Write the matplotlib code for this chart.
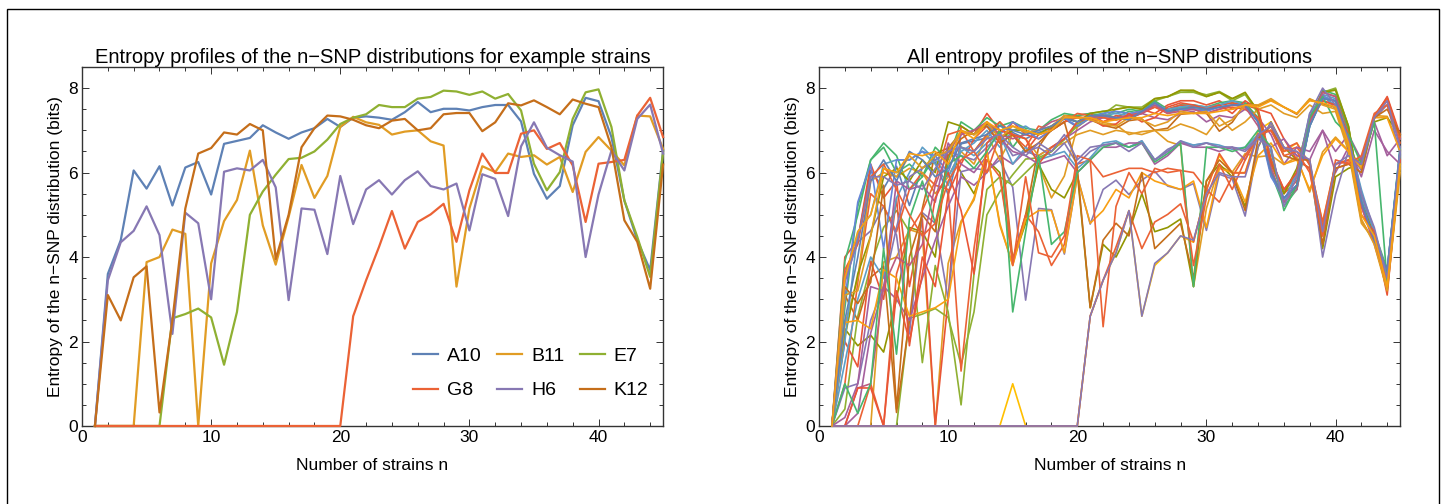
import numpy as np
import matplotlib

matplotlib.use('Agg')
import matplotlib.pyplot as plt
from matplotlib.ticker import MultipleLocator
from matplotlib.patches import Rectangle

plt.rcParams['font.family'] = ['Liberation Sans', 'DejaVu Sans']

n_strains = np.arange(1, 46)

# example strains (left panel)
a10 = [0, 3.6, 4.4, 6.05, 5.62, 6.15, 5.22, 6.12, 6.25, 5.48,
       6.68, 6.75, 6.82, 7.12, 6.95, 6.8, 6.95, 7.05, 7.27, 7.08,
       7.3, 7.33, 7.3, 7.25, 7.43, 7.67, 7.43, 7.51, 7.51, 7.47,
       7.55, 7.6, 7.6, 7.21, 5.97, 5.38, 5.68, 7.12, 7.77, 7.69,
       6.84, 5.34, 4.4, 3.69, 6.52]
b11 = [0, 0, 0, 0, 3.88, 4.0, 4.65, 4.55, 0, 3.85,
       4.85, 5.35, 6.52, 4.75, 3.82, 4.95, 6.18, 5.4, 5.92, 7.08,
       7.32, 7.19, 7.13, 6.9, 6.97, 7.0, 6.74, 6.64, 3.3, 5.15,
       6.15, 6.01, 6.45, 6.37, 6.41, 6.19, 6.37, 5.54, 6.49, 6.84,
       6.52, 6.17, 7.35, 7.33, 6.56]
e7 = [0, 0, 0, 0, 0, 0, 2.55, 2.65, 2.78, 2.57,
      1.45, 2.7, 5.0, 5.55, 5.95, 6.32, 6.35, 6.5, 6.78, 7.15,
      7.3, 7.38, 7.6, 7.55, 7.55, 7.75, 7.79, 7.94, 7.92, 7.84,
      7.92, 7.75, 7.86, 7.47, 6.21, 5.58, 6.01, 7.27, 7.9, 7.97,
      7.08, 5.34, 4.48, 3.53, 6.5]
g8 = [0, 0, 0, 0, 0, 0, 0, 0, 0, 0,
      0, 0, 0, 0, 0, 0, 0, 0, 0, 0,
      2.6, 3.45, 4.24, 5.09, 4.2, 4.83, 5.01, 5.26, 4.36, 5.58,
      6.45, 5.99, 5.99, 6.92, 7.0, 6.56, 6.7, 6.17, 4.83, 6.21,
      6.25, 6.3, 7.35, 7.77, 6.84]
h6 = [0, 3.45, 4.35, 4.62, 5.2, 4.52, 2.18, 5.05, 4.8, 3.0,
      6.02, 6.1, 6.05, 6.3, 5.65, 2.98, 5.15, 5.12, 4.07, 5.92,
      4.78, 5.6, 5.82, 5.48, 5.82, 6.03, 5.68, 5.6, 5.74, 4.63,
      5.96, 5.85, 4.97, 6.62, 7.19, 6.59, 6.41, 6.26, 4.0, 5.48,
      6.52, 6.05, 7.27, 7.61, 6.45]
k12 = [0, 3.1, 2.5, 3.52, 3.78, 0.32, 2.5, 5.15, 6.45, 6.58,
       6.95, 6.9, 7.15, 7.0, 3.95, 5.0, 6.6, 7.05, 7.35, 7.33,
       7.25, 7.12, 7.05, 7.23, 7.27, 7.0, 7.05, 7.38, 7.41, 7.41,
       6.98, 7.19, 7.64, 7.59, 7.71, 7.55, 7.38, 7.73, 7.63, 7.55,
       6.6, 4.87, 4.36, 3.25, 6.19]

example_names = ['A10', 'B11', 'E7', 'G8', 'H6', 'K12']
example_values = [a10, b11, e7, g8, h6, k12]

# further strains (right panel only)
r01 = [0, 2.8, 5.2, 6.3, 6.7, 6.4, 5.6, 5.9, 6.4, 6.5,
       6.6, 6.5, 6.9, 7.2, 6.6, 7.0, 6.9, 7.0, 7.3, 7.2,
       7.35, 7.4, 7.3, 7.45, 7.4, 7.65, 7.45, 7.55, 7.55, 7.5,
       7.6, 7.65, 7.6, 7.25, 6.0, 5.2, 5.6, 7.1, 7.8, 7.7,
       6.9, 5.4, 4.5, 3.6, 6.5]
r02 = [0, 0, 0, 0, 0, 0, 0, 0, 0, 0,
       0, 0, 0, 0, 1.0, 0, 0, 0, 0, 0,
       2.6, 3.45, 4.1, 5.1, 2.6, 3.8, 4.1, 4.5, 4.35, 5.6,
       6.4, 6.0, 6.0, 7.0, 7.2, 6.5, 6.7, 6.2, 4.8, 6.2,
       6.3, 6.3, 7.35, 7.75, 6.8]
r03 = [0, 0, 0, 0, 0, 0, 0, 0, 0, 0,
       0, 0, 0, 0, 0, 0, 0, 0, 0, 0,
       2.6, 3.45, 4.1, 5.1, 2.6, 3.85, 4.1, 4.5, 4.4, 5.5,
       6.0, 5.9, 5.9, 6.9, 7.1, 6.6, 6.5, 6.3, 4.6, 6.2,
       6.4, 6.2, 7.3, 7.7, 6.6]
r04 = [0, 2.3, 1.9, 2.15, 1.75, 3.0, 4.7, 4.6, 4.0, 6.6,
       6.0, 5.5, 6.3, 6.0, 3.9, 4.8, 6.2, 5.6, 5.4, 6.0,
       2.8, 4.3, 4.0, 4.6, 5.5, 4.6, 4.7, 4.9, 3.3, 5.8,
       6.2, 5.9, 5.2, 6.6, 7.2, 6.6, 6.3, 6.1, 4.2, 5.9,
       6.1, 6.2, 7.2, 7.3, 6.9]
r05 = [0, 4.0, 4.4, 6.2, 5.4, 5.8, 3.3, 4.9, 0, 3.0,
       7.1, 6.9, 7.4, 7.0, 6.9, 6.5, 6.9, 7.0, 7.2, 7.35,
       7.4, 7.2, 7.3, 7.35, 7.5, 7.4, 7.6, 7.7, 7.7, 7.6,
       7.7, 7.5, 7.6, 7.5, 7.4, 6.8, 6.3, 6.1, 4.5, 6.2,
       6.3, 6.2, 7.3, 7.8, 6.9]
r06 = [0, 0.4, 2.6, 3.8, 4.7, 5.1, 4.6, 1.5, 3.8, 2.7,
       0.5, 3.6, 5.6, 5.9, 5.7, 6.0, 6.3, 6.5, 6.8, 7.1,
       7.3, 7.3, 7.5, 7.55, 7.5, 7.7, 7.8, 7.9, 7.9, 7.8,
       7.9, 7.7, 7.85, 7.4, 6.2, 5.5, 6.0, 7.3, 7.9, 8.0,
       7.1, 5.3, 4.5, 3.5, 6.4]
r07 = [0, 1.0, 3.4, 5.5, 5.2, 4.6, 5.6, 6.0, 5.7, 5.6,
       1.3, 4.2, 6.3, 5.9, 3.9, 5.0, 4.6, 3.8, 4.3, 6.2,
       6.3, 5.9, 6.0, 6.1, 6.1, 6.0, 6.1, 6.05, 6.0, 5.6,
       5.3, 5.9, 6.4, 6.9, 7.0, 6.5, 6.6, 6.2, 4.7, 6.1,
       6.2, 6.3, 7.3, 7.7, 6.8]
r08 = [0, 2.0, 4.6, 5.0, 6.2, 6.3, 6.3, 6.5, 6.2, 5.7,
       6.6, 6.4, 6.7, 6.9, 6.2, 6.6, 6.3, 6.4, 6.5, 6.1,
       6.35, 6.7, 6.75, 6.6, 6.75, 6.3, 6.5, 6.75, 6.65, 6.7,
       6.65, 6.55, 6.6, 6.9, 6.5, 5.3, 6.0, 7.4, 7.8, 7.6,
       6.8, 5.6, 4.6, 3.6, 6.6]
r09 = [0, 0.2, 1.0, 3.3, 3.2, 5.8, 5.6, 5.7, 5.3, 6.7,
       6.2, 6.0, 6.4, 6.8, 6.5, 6.4, 6.2, 6.3, 6.4, 6.0,
       6.3, 6.6, 6.6, 6.7, 6.7, 6.2, 6.4, 6.7, 6.6, 6.6,
       6.5, 6.6, 6.3, 6.9, 6.6, 6.8, 6.4, 6.3, 7.0, 6.0,
       6.6, 5.9, 7.0, 6.5, 6.2]
r10 = [0, 2.45, 2.5, 2.3, 3.7, 3.5, 2.6, 2.7, 2.8, 3.0,
       4.8, 5.4, 6.5, 4.8, 3.8, 4.9, 5.1, 5.1, 4.1, 5.9,
       4.8, 5.1, 5.6, 5.4, 6.0, 5.8, 5.7, 5.6, 5.8, 4.7,
       6.1, 6.0, 5.3, 6.4, 6.7, 6.2, 6.3, 5.6, 6.4, 6.8,
       6.5, 6.1, 7.3, 7.3, 6.5]
r11 = [0, 3.0, 5.3, 6.2, 4.2, 6.3, 6.3, 6.5, 6.4, 6.0,
       6.9, 7.0, 7.1, 6.9, 7.2, 7.0, 6.8, 7.0, 7.3, 7.1,
       7.3, 7.4, 7.45, 7.4, 7.45, 7.65, 7.45, 7.5, 7.5, 7.45,
       7.55, 7.6, 7.6, 7.2, 5.9, 5.4, 5.7, 7.1, 7.8, 7.7,
       6.8, 5.3, 4.4, 3.7, 6.5]
r12 = [0, 3.3, 2.9, 3.4, 5.7, 0.4, 4.0, 5.0, 4.6, 6.4,
       6.8, 7.0, 7.1, 6.7, 6.9, 6.5, 6.7, 7.0, 7.2, 6.1,
       2.8, 4.4, 4.8, 4.5, 6.0, 4.2, 4.5, 4.8, 3.5, 5.8,
       6.3, 6.0, 5.1, 6.8, 7.1, 6.4, 6.3, 6.3, 4.3, 6.1,
       6.2, 6.0, 7.3, 7.5, 6.9]
r13 = [0, 0, 0.9, 1.0, 3.3, 4.0, 3.8, 4.3, 5.7, 6.5,
       6.9, 7.0, 7.2, 6.9, 6.8, 6.9, 7.0, 7.2, 7.3, 7.3,
       7.3, 7.35, 7.3, 7.35, 7.4, 7.6, 7.4, 7.45, 7.5, 7.4,
       7.5, 7.6, 7.55, 7.1, 6.1, 5.3, 5.6, 7.2, 7.9, 7.8,
       6.7, 5.2, 4.3, 3.3, 6.3]
r14 = [0, 0, 0.9, 0.9, 0, 3.2, 2.0, 3.6, 5.4, 6.0,
       5.1, 3.6, 6.7, 7.0, 6.9, 6.8, 6.2, 6.6, 6.8, 7.2,
       7.3, 7.1, 7.15, 7.4, 7.2, 7.3, 7.55, 7.65, 7.6, 7.5,
       7.6, 7.4, 7.7, 7.5, 6.3, 5.6, 6.0, 7.3, 7.7, 7.6,
       6.9, 5.0, 4.6, 3.1, 6.3]
r15 = [0, 1.0, 0.3, 1.0, 4.2, 1.7, 4.9, 5.8, 4.8, 6.2,
       6.4, 6.1, 6.5, 7.0, 2.7, 4.6, 6.4, 4.3, 4.6, 6.0,
       6.3, 6.6, 6.7, 6.6, 6.7, 6.25, 6.45, 6.7, 3.3, 6.6,
       6.6, 6.5, 6.6, 7.0, 6.6, 5.1, 5.7, 7.3, 7.8, 7.2,
       6.9, 6.2, 7.2, 3.4, 6.2]
r16 = [0, 3.1, 3.2, 4.5, 6.1, 5.9, 6.4, 6.1, 6.4, 6.5,
       7.0, 6.9, 7.2, 6.8, 7.1, 6.95, 7.0, 7.1, 7.35, 7.3,
       7.25, 7.15, 7.1, 7.3, 7.25, 7.1, 7.2, 7.45, 7.4, 7.45,
       7.1, 7.25, 7.6, 7.6, 7.75, 7.55, 7.4, 7.75, 7.6, 7.5,
       6.6, 4.9, 4.3, 3.2, 6.1]
r17 = [0, 2.5, 4.0, 5.8, 6.3, 5.8, 6.5, 6.3, 5.9, 6.1,
       6.7, 6.8, 6.9, 7.1, 7.0, 6.9, 7.0, 7.1, 7.3, 7.2,
       7.35, 7.35, 7.3, 7.25, 7.45, 7.65, 7.45, 7.5, 7.55, 7.5,
       7.55, 7.6, 7.6, 7.2, 6.0, 5.4, 5.7, 7.1, 7.75, 7.7,
       6.8, 5.3, 4.4, 3.7, 6.5]
r18 = [0, 3.7, 4.3, 5.9, 6.2, 5.6, 5.0, 4.5, 4.8, 5.8,
       6.3, 6.5, 6.0, 6.9, 3.8, 5.9, 4.1, 4.0, 4.5, 6.4,
       6.3, 2.35, 5.2, 6.0, 5.5, 6.1, 6.0, 6.05, 3.8, 5.4,
       6.2, 5.6, 6.3, 6.9, 7.0, 6.4, 6.5, 6.0, 4.5, 6.3,
       6.2, 6.4, 7.4, 7.6, 6.7]
r19 = [0, 3.4, 4.4, 5.9, 5.9, 5.7, 5.8, 5.6, 6.1, 6.5,
       6.6, 6.5, 6.8, 6.9, 6.6, 6.4, 6.7, 6.5, 6.9, 6.3,
       6.6, 6.65, 6.7, 6.5, 6.7, 6.3, 6.5, 6.75, 6.6, 6.7,
       6.6, 6.6, 6.5, 6.8, 6.6, 5.2, 5.9, 7.4, 8.0, 7.6,
       6.8, 5.5, 4.7, 3.5, 6.5]
r20 = [0, 3.5, 4.6, 5.0, 6.1, 6.0, 6.45, 6.4, 6.5, 6.2,
       7.0, 6.8, 7.2, 7.0, 7.1, 7.0, 6.9, 7.0, 7.3, 7.3,
       7.3, 7.2, 7.25, 7.3, 7.3, 7.4, 7.35, 7.4, 7.4, 7.4,
       7.45, 7.5, 7.6, 7.55, 7.7, 7.55, 7.4, 7.7, 7.65, 7.55,
       6.7, 5.0, 4.5, 3.3, 6.2]
r21 = [0, 3.9, 5.0, 6.3, 6.6, 6.0, 6.2, 5.9, 6.6, 6.3,
       7.2, 7.0, 7.3, 7.1, 7.2, 7.05, 7.0, 7.25, 7.4, 7.35,
       7.4, 7.45, 7.4, 7.5, 7.45, 7.7, 7.5, 7.6, 7.6, 7.55,
       7.65, 7.7, 7.65, 7.3, 6.1, 5.3, 5.7, 7.2, 7.95, 7.85,
       7.0, 5.5, 4.6, 3.7, 6.6]
r22 = [0, 0, 0.3, 2.2, 3.3, 3.0, 2.5, 3.5, 4.4, 5.2,
       5.9, 5.7, 6.0, 6.4, 6.2, 6.5, 6.4, 6.6, 6.8, 7.0,
       7.2, 7.3, 7.25, 7.3, 7.4, 7.3, 7.25, 7.4, 7.45, 7.2,
       7.35, 7.3, 7.5, 7.3, 6.9, 6.2, 6.6, 6.5, 7.0, 6.5,
       6.9, 6.3, 7.2, 6.4, 6.8]
r23 = [0, 2.0, 1.4, 3.9, 3.0, 5.4, 1.9, 4.0, 3.3, 5.5,
       6.2, 6.8, 7.1, 6.7, 7.2, 6.9, 6.8, 7.0, 7.2, 7.3,
       7.3, 7.2, 7.35, 7.3, 7.4, 7.55, 7.5, 7.6, 7.55, 7.55,
       7.6, 7.65, 7.6, 7.25, 6.2, 5.5, 5.8, 7.2, 7.9, 7.8,
       6.9, 5.3, 4.5, 3.5, 6.4]
r24 = [0, 2.4, 3.5, 5.8, 6.0, 5.9, 6.1, 6.0, 5.5, 5.9,
       6.5, 6.2, 6.9, 6.3, 6.9, 6.8, 6.4, 6.6, 6.7, 6.9,
       7.0, 6.9, 7.0, 6.95, 6.9, 7.0, 7.0, 7.15, 7.05, 6.9,
       7.3, 7.0, 7.2, 7.5, 7.6, 7.4, 7.3, 7.6, 7.4, 7.45,
       6.5, 4.8, 4.4, 3.2, 6.0]
r25 = [0, 1.5, 3.0, 4.0, 3.5, 5.4, 6.0, 6.6, 6.3, 5.9,
       6.5, 6.7, 7.0, 6.6, 7.0, 7.1, 6.9, 7.1, 7.3, 7.2,
       7.3, 7.35, 7.4, 7.35, 7.45, 7.6, 7.5, 7.55, 7.6, 7.55,
       7.6, 7.7, 7.6, 7.2, 6.0, 5.3, 5.6, 7.15, 7.85, 7.75,
       6.85, 5.4, 4.5, 3.6, 6.5]
r26 = [0, 0, 0, 1.0, 0, 3.6, 4.6, 5.1, 5.8, 6.9,
       7.0, 6.5, 6.9, 7.2, 6.9, 6.6, 7.1, 7.0, 7.2, 7.4,
       7.35, 7.3, 7.25, 7.35, 7.45, 7.55, 7.4, 7.5, 7.5, 7.4,
       7.5, 7.55, 7.5, 7.3, 6.3, 5.6, 5.9, 7.2, 7.7, 7.6,
       6.8, 5.2, 4.4, 3.4, 6.3]
r27 = [0, 2.1, 3.6, 4.5, 5.9, 6.1, 5.8, 6.3, 6.0, 7.2,
       7.1, 6.9, 7.2, 6.8, 7.0, 7.0, 6.9, 7.1, 7.3, 7.2,
       7.4, 7.45, 7.5, 7.55, 7.5, 7.75, 7.8, 7.95, 7.95, 7.8,
       7.9, 7.75, 7.9, 7.45, 6.3, 5.5, 6.1, 7.3, 7.9, 7.95,
       7.1, 5.3, 4.5, 3.6, 6.4]
r28 = [0, 0.9, 1.0, 2.5, 3.3, 4.7, 5.9, 6.1, 6.3, 6.5,
       6.4, 6.3, 6.6, 6.9, 6.4, 6.5, 6.6, 6.4, 6.7, 6.2,
       6.5, 6.65, 6.7, 6.6, 6.75, 6.3, 6.55, 6.7, 6.65, 6.7,
       6.6, 6.6, 6.55, 6.85, 6.5, 5.3, 6.0, 7.3, 7.85, 7.5,
       6.8, 5.5, 4.6, 3.5, 6.5]

# Mathematica default plot colours
m_blue, m_orange, m_green = '#5E81B5', '#E19C24', '#8FB032'
m_red, m_purple, m_brown = '#EB6235', '#8778B3', '#C56E1A'
m_sky, m_yellow, m_pink = '#5D9EC7', '#FFBF00', '#A5609D'
m_olive, m_red2, m_blue2 = '#929600', '#E95536', '#6685D9'
m_orange2, m_rose, m_green2 = '#F89F13', '#BC5B80', '#47B66D'

example_colors = [m_blue, m_orange, m_green, m_red, m_purple, m_brown]

all_values = [a10, r02, b11, r01, e7, r04, g8, r05, h6, r06, k12, r07,
              r21, r22, r23, r24, r25, r26, r27, r28,
              r08, r09, r10, r11, r12, r13, r14, r15, r16, r17, r18,
              r03, r19, r20]
all_colors = [m_blue, m_yellow, m_orange, m_green2, m_green, m_olive,
              m_red, m_red2, m_purple, m_green, m_brown, m_red,
              m_green2, m_pink, m_red2, m_orange, m_sky, m_red, m_olive, m_purple,
              m_sky, m_pink, m_orange2, m_blue2, m_brown, m_rose,
              m_red2, m_green2, m_orange, m_blue, m_red, m_purple,
              m_purple, m_orange2]

fig = plt.figure(figsize=(14.44, 5.04), dpi=100)
fig.patches.append(Rectangle((7 / 1444, -0.05), 1432 / 1444, 1.05 - 9 / 504,
                             transform=fig.transFigure, fill=False,
                             edgecolor='black', linewidth=1.0))

ax1 = fig.add_axes([0.0568, 0.1548, 0.4024, 0.7123])
ax2 = fig.add_axes([0.5672, 0.1548, 0.4024, 0.7123])

lines = []
for name, vals, col in zip(example_names, example_values, example_colors):
    ln, = ax1.plot(n_strains, vals, color=col, lw=1.6, label=name,
                   clip_on=False, zorder=3)
    lines.append(ln)

for vals, col in zip(all_values, all_colors):
    ax2.plot(n_strains, vals, color=col, lw=1.2, clip_on=False, zorder=3)

order = [0, 3, 1, 4, 2, 5]
ax1.legend([lines[i] for i in order], [example_names[i] for i in order],
           ncol=3, frameon=False, loc='center', bbox_to_anchor=(0.772, 0.146),
           fontsize=14, handlelength=1.3, handletextpad=0.45,
           columnspacing=0.8, labelspacing=0.85, borderpad=0)

ax1.set_title('Entropy profiles of the n\u2212SNP distributions for example strains',
              fontsize=14.5, pad=2)
ax2.set_title('All entropy profiles of the n\u2212SNP distributions',
              fontsize=14.5, pad=2)

for ax in (ax1, ax2):
    ax.set_xlim(0, 45)
    ax.set_ylim(0, 8.5)
    ax.xaxis.set_major_locator(MultipleLocator(10))
    ax.xaxis.set_minor_locator(MultipleLocator(2))
    ax.yaxis.set_major_locator(MultipleLocator(2))
    ax.yaxis.set_minor_locator(MultipleLocator(0.5))
    ax.tick_params(which='both', direction='in', top=True, right=True,
                   labelsize=12.5, width=0.7, colors='#333333', labelcolor='black')
    ax.tick_params(which='major', length=5, pad=3)
    ax.tick_params(which='minor', length=3)
    for sp in ax.spines.values():
        sp.set_linewidth(1.0)
        sp.set_color('#333333')
    ax.set_xlabel('Number of strains n', fontsize=12.5, labelpad=9)
    ax.set_ylabel('Entropy of the n\u2212SNP distribution (bits)', fontsize=12.5,
                  labelpad=4)

fig.savefig('out.png', dpi=100)
